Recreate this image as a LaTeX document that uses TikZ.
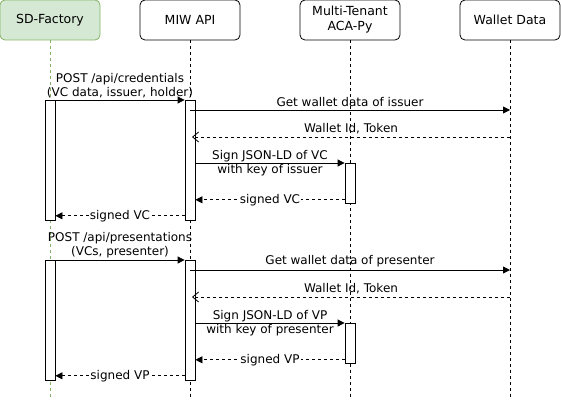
\documentclass[tikz,border=0pt]{standalone}
\usepackage{fontspec}
\setmainfont{DejaVu Sans}
\usetikzlibrary{arrows.meta}
\definecolor{sdfill}{HTML}{D5E8D4}
\definecolor{sdline}{HTML}{82B366}
\begin{document}
\begin{tikzpicture}[x=1pt,y=-1pt,
  header/.style={draw,rounded corners=5pt,minimum width=100pt,minimum height=40pt,
    inner sep=0pt,align=center,font=\fontsize{12.5}{14}\selectfont,line width=0.8pt},
  life/.style={dash pattern=on 3pt off 3pt,line width=0.8pt},
  act/.style={draw,fill=white,minimum width=10pt,inner sep=0pt,line width=0.8pt},
  msg/.style={-{Triangle[length=7pt,width=7pt]},line width=0.8pt},
  ret/.style={-{Triangle[length=7pt,width=7pt]},dash pattern=on 3pt off 3pt,line width=0.8pt},
  retopen/.style={-{Straight Barb[length=6pt,width=10pt]},dash pattern=on 3pt off 3pt,line width=0.8pt},
  lbl/.style={font=\fontsize{12}{14.5}\selectfont,align=center,inner sep=1pt},
  rlbl/.style={lbl,fill=white}]
\useasboundingbox (0,0) rectangle (561,401);

% participants
\node[header,fill=sdfill,draw=sdline] (sd) at (50,20) {SD-Factory};
\node[header] (miw) at (190,20) {MIW API};
\node[header] (aca) at (350,20) {Multi-Tenant\\[1pt]ACA-Py};
\node[header] (wal) at (510,20) {Wallet Data};

% lifelines
\coordinate (sdEnd) at (50,398);
\coordinate (miwEnd) at (190,398);
\coordinate (acaEnd) at (350,398);
\coordinate (walEnd) at (510,398);
\draw[life,draw=sdline] (sd.south) -- (sdEnd);
\draw[life] (miw.south) -- (miwEnd);
\draw[life] (aca.south) -- (acaEnd);
\draw[life] (wal.south) -- (walEnd);

% activation bars
\foreach \o/\n in {0/1,160/2}{
  \node[act,minimum height=120pt,anchor=north] (sdA\n) at (50,100+\o) {};
  \node[act,minimum height=120pt,anchor=north] (miwA\n) at (190,100+\o) {};
  \node[act,minimum height=40pt,anchor=north] (acaA\n) at (350,163+\o) {};
  \coordinate (miwC\n) at (190,110+\o);
  \coordinate (walC\n) at (510,110+\o);
  \coordinate (walR\n) at (510,137+\o);
  \coordinate (miwR\n) at (192,137+\o);
}

% issuing a credential
\draw[msg] (sdA1.north east) -- node[lbl,above=1pt]{POST /api/credentials\\[-1pt](VC data, issuer, holder)} (miwA1.north west);
\draw[msg] (miwC1) -- node[lbl,above=2pt]{Get wallet data of issuer} (walC1);
\draw[retopen] (walR1) -- node[lbl,above=2pt]{Wallet Id, Token} (miwR1);
\draw[msg] (miwA1.east |- acaA1.north) -- node[lbl]{Sign JSON-LD of VC\\[0pt]with key of issuer} (acaA1.north west);
\draw[ret] ([yshift=4pt]acaA1.south west) -- node[rlbl]{signed VC} ([yshift=4pt]miwA1.east |- acaA1.south);
\draw[ret] ([yshift=5pt]miwA1.south west) -- node[rlbl]{signed VC} ([yshift=5pt]sdA1.south east);

% presenting credentials
\draw[msg] (sdA2.north east) -- node[lbl,above=1pt]{POST /api/presentations\\[-1pt](VCs, presenter)} (miwA2.north west);
\draw[msg] (miwC2) -- node[lbl,above=2pt]{Get wallet data of presenter} (walC2);
\draw[retopen] (walR2) -- node[lbl,above=2pt]{Wallet Id, Token} (miwR2);
\draw[msg] (miwA2.east |- acaA2.north) -- node[lbl]{Sign JSON-LD of VP\\[0pt]with key of presenter} (acaA2.north west);
\draw[ret] ([yshift=4pt]acaA2.south west) -- node[rlbl]{signed VP} ([yshift=4pt]miwA2.east |- acaA2.south);
\draw[ret] ([yshift=5pt]miwA2.south west) -- node[rlbl]{signed VP} ([yshift=5pt]sdA2.south east);
\end{tikzpicture}
\end{document}
